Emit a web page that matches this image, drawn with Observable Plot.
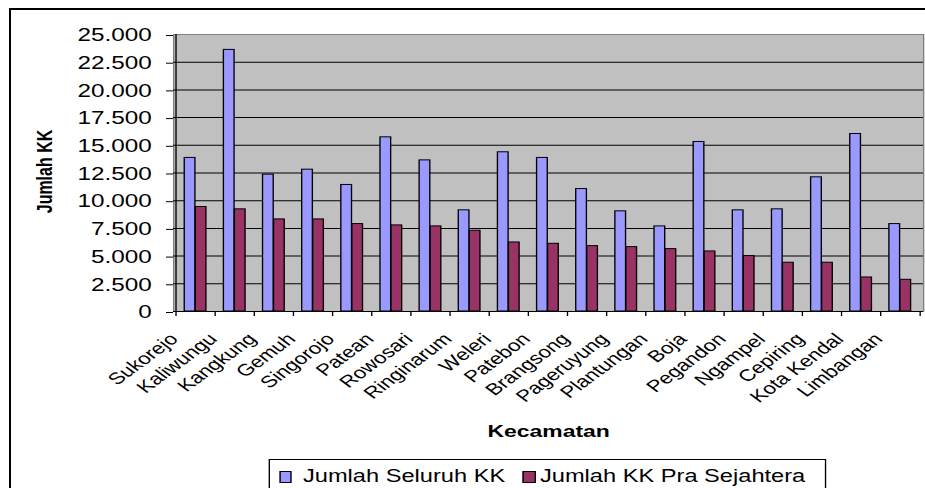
<!DOCTYPE html>
<html>
<head>
<meta charset="utf-8">
<script src="https://cdn.jsdelivr.net/npm/d3@7"></script>
<script src="https://cdn.jsdelivr.net/npm/@observablehq/plot@0.6"></script>
<style>
  html, body { margin: 0; padding: 0; background: #fff; overflow: hidden; }
  body { width: 925px; height: 488px; position: relative; font-family: "Liberation Sans", Arial, sans-serif; }
  #outer { position: absolute; left: 9px; top: 8px; width: 1000px; height: 600px; border: 2px solid #000; }
  #chart { position: absolute; left: 0; top: 0; transform-origin: 0 0; }
  #chart svg { position: absolute; left: 0; top: 0; }
  #legend { position: absolute; border: 1px solid #000; background: #fff; height: 40px; }
  #legend .sw { position: absolute; border: 1px solid #000; box-sizing: border-box; }
  #legend .lb { position: absolute; font-size: 17.5px; white-space: nowrap; color: #000; line-height: 1; }
</style>
</head>
<body>
<div id="outer"></div>
<div id="chart"></div>
<script>
const categories = ["Sukorejo","Kaliwungu","Kangkung","Gemuh","Singorojo","Patean","Rowosari","Ringinarum","Weleri","Patebon","Brangsong","Pageruyung","Plantungan","Boja","Pegandon","Ngampel","Cepiring","Kota Kendal","Limbangan"];
const seluruhKK = [13860,23610,12350,12800,11420,15720,13640,9130,14370,13860,11050,9040,7680,15300,9130,9220,12110,16020,7890];
const praSejahtera = [9430,9220,8310,8310,7890,7770,7680,7290,6230,6110,5900,5810,5630,5420,5000,4400,4400,3070,2860];
const seriesNames = ["Jumlah Seluruh KK","Jumlah KK Pra Sejahtera"];
const seriesColors = ["#9999FF","#993366"];
const yTicks = [0,2500,5000,7500,10000,12500,15000,17500,20000,22500,25000];
const xTitle = "Kecamatan";
const yTitle = "Jumlah KK";

const rows = categories.flatMap((c, i) => [
  {category: c, series: seriesNames[0], value: seluruhKK[i]},
  {category: c, series: seriesNames[1], value: praSejahtera[i]}
]);

const S = 1.35;               // horizontal stretch of the reference rendering
const W = 925 / S;
const H = 455;
const left = 173 / S, right = 923 / S;
const step = (right - left) / categories.length;
const half = step / 2;
const barW = 11 / S;
const fmt = d => d3.format(",")(d).replace(/,/g, ".");

const chart = Plot.plot({
  width: W,
  height: H,
  marginLeft: left,
  marginRight: W - right,
  marginTop: 34,
  marginBottom: H - 311,
  x: {type: "band", domain: categories, padding: 0, axis: null},
  y: {domain: [0, 25000], axis: null},
  style: {fontFamily: "'Liberation Sans', Arial, sans-serif", background: "transparent", overflow: "visible", color: "#000"},
  marks: [
    Plot.frame({fill: "#C0C0C0", stroke: "#808080"}),
    Plot.ruleY(yTicks.filter(v => v > 0 && v < 25000), {stroke: "#000", strokeWidth: 1}),
    Plot.barY(rows.filter(d => d.series === seriesNames[0]), {x: "category", y: "value", fill: seriesColors[0], stroke: "#000", strokeWidth: 1, insetLeft: half - barW, insetRight: half}),
    Plot.barY(rows.filter(d => d.series === seriesNames[1]), {x: "category", y: "value", fill: seriesColors[1], stroke: "#000", strokeWidth: 1, insetLeft: half, insetRight: half - barW}),
    Plot.ruleY([0], {stroke: "#000"}),
    Plot.ruleX([categories[0]], {x: d => d, dx: -half, stroke: "#000"}),
    Plot.axisY({ticks: yTicks, tickFormat: fmt, tickSize: 7 / S, tickPadding: 11, fontSize: 18, label: null, dy: 1}),
    Plot.axisX({ticks: categories, tickSize: 5, tickFormat: () => "", dx: -half, label: null}),
    Plot.axisX({ticks: [categories[categories.length - 1]], tickSize: 5, tickFormat: () => "", dx: half, label: null}),
    Plot.axisX({ticks: categories, tickSize: 0, tickRotate: -45, fontSize: 16.5, label: null, dx: -16, dy: 13}),
    Plot.text([yTitle], {frameAnchor: "left", rotate: -90, dx: -95, dy: -1.5, fontWeight: "bold", fontSize: 16, textAnchor: "middle", lineAnchor: "middle"}),
    Plot.text([xTitle], {frameAnchor: "bottom", dy: 120, fontWeight: "bold", fontSize: 17, textAnchor: "middle", lineAnchor: "middle"})
  ]
});

const host = document.getElementById("chart");
host.style.width = W + "px";
host.style.height = "488px";
host.style.transform = `scaleX(${S})`;
host.appendChild(chart);

// legend (below the SVG plot area)
const legend = document.createElement("div");
legend.id = "legend";
const lgLeft = 269 / S;
legend.style.left = lgLeft + "px";
legend.style.top = "459px";
legend.style.width = ((823 - 269) / S) + "px";
const items = [
  {sw: 279, tx: 303},
  {sw: 523, tx: 540}
];
seriesNames.forEach((name, i) => {
  const sw = document.createElement("div");
  sw.className = "sw";
  sw.style.left = ((items[i].sw - 269) / S - 1) + "px";
  sw.style.top = "11px";
  sw.style.width = (12.5 / S) + "px";
  sw.style.height = "12px";
  sw.style.background = seriesColors[i];
  legend.appendChild(sw);
  const lb = document.createElement("div");
  lb.className = "lb";
  lb.style.left = ((items[i].tx - 269) / S - 1) + "px";
  lb.style.top = "8px";
  lb.textContent = name;
  legend.appendChild(lb);
});
host.appendChild(legend);
</script>
</body>
</html>
